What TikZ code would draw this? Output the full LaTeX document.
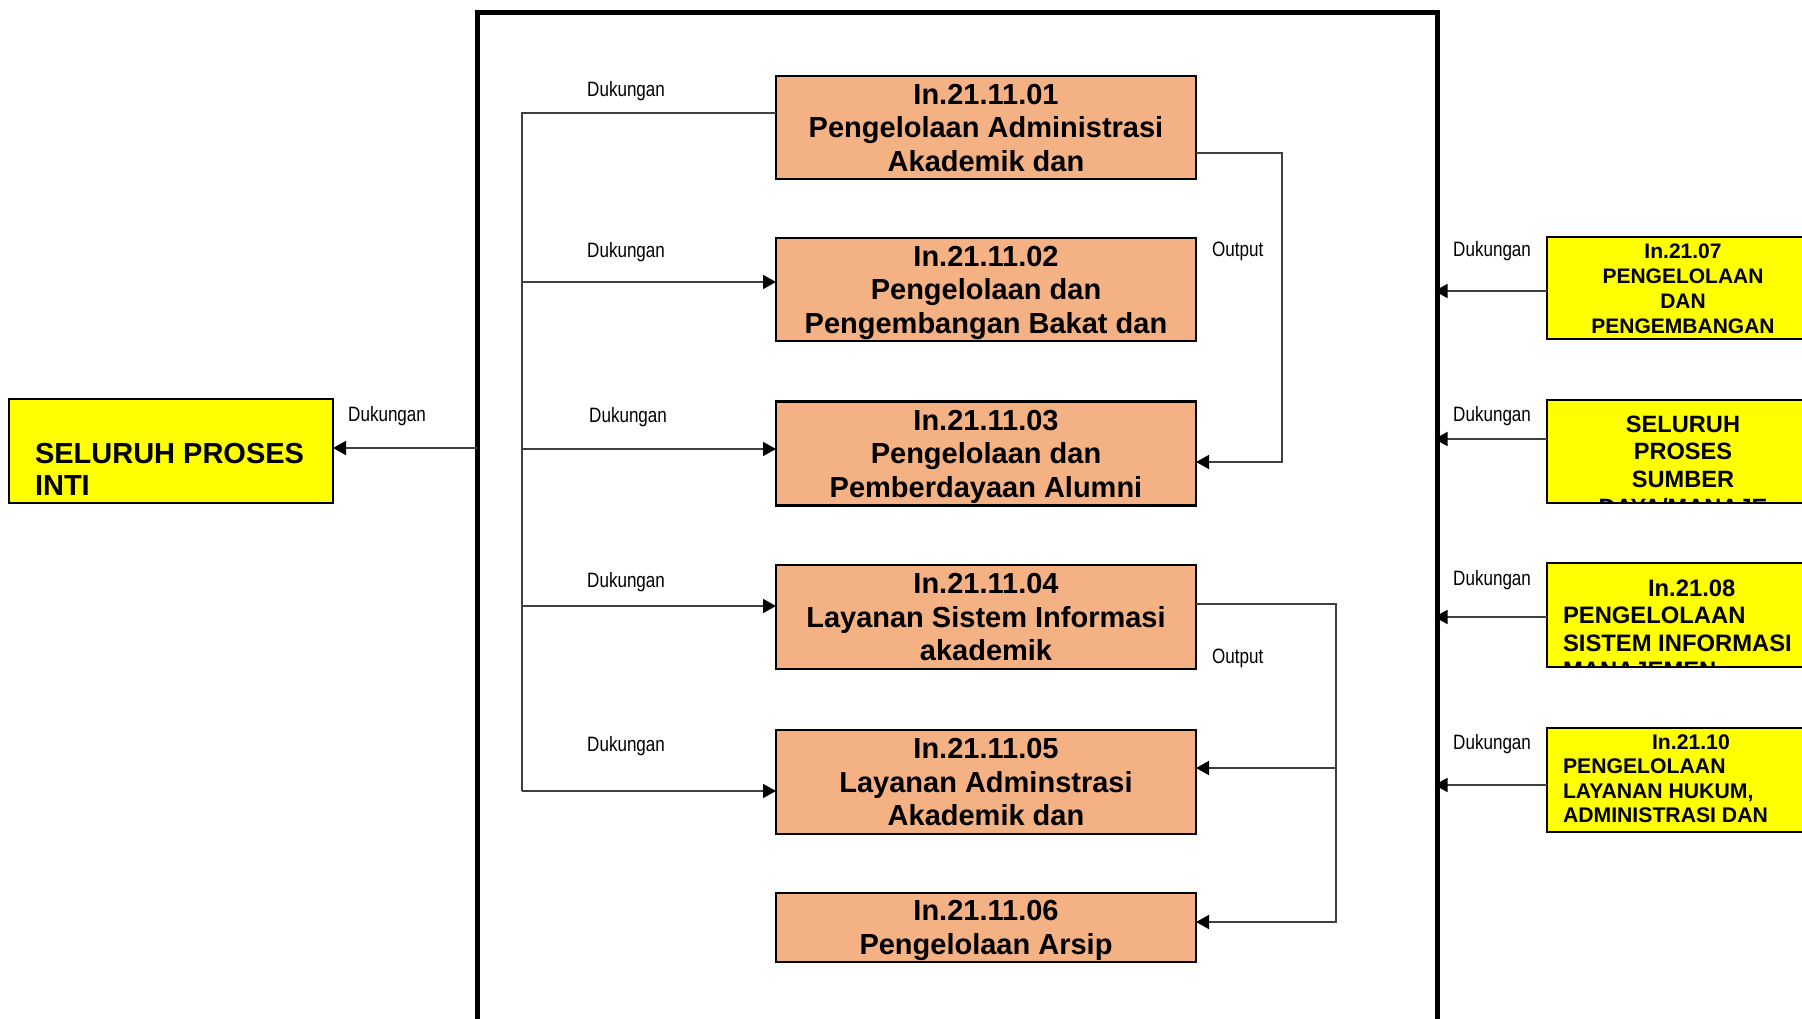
\documentclass[tikz,border=0pt]{standalone}
\usepackage{fontspec}
\setmainfont{Liberation Sans}
\newfontfamily\narrowfont[FakeStretch=0.82]{Liberation Sans}
\usetikzlibrary{arrows.meta}
\definecolor{boxorange}{RGB}{244,177,131}
\definecolor{boxyellow}{RGB}{255,255,0}
\definecolor{linegray}{RGB}{64,64,64}
\begin{document}
\begin{tikzpicture}[x=1pt,y=-1pt,
  procbox/.style={draw=black, line width=2.5pt, fill=boxorange, minimum width=420pt,
    inner sep=0pt, outer sep=0pt, align=center, text depth=0pt,
    font=\fontsize{29}{33.5}\selectfont\bfseries},
  extbox/.style={draw=black, line width=1.5pt, fill=boxyellow, inner sep=0pt,
    outer sep=0pt, anchor=north west},
  exttext/.style={inner sep=0pt, outer sep=0pt},
  conn/.style={draw=linegray, line width=1.5pt},
  arr/.style={-{Triangle[length=13pt,width=14pt,color=black]}},
  lbl/.style={anchor=base west, inner sep=0pt, font=\narrowfont\fontsize{20.8}{24}\selectfont},
]
\useasboundingbox (0,0) rectangle (1802,1019);

% outer frame of the unit
\node[draw=black, line width=5pt, minimum width=960pt, minimum height=1200pt,
  inner sep=0pt, outer sep=0pt, anchor=north west] (frame) at (477,12.5) {};

% process boxes
\node[procbox, minimum height=103pt] (b1) at (986,127.5) {In.21.11.01\\Pengelolaan Administrasi\\Akademik dan};
\node[procbox, minimum height=103pt] (b2) at (986,289.5) {In.21.11.02\\Pengelolaan dan\\Pengembangan Bakat dan};
\node[procbox, minimum height=104pt] (b3) at (986,453.5) {In.21.11.03\\Pengelolaan dan\\Pemberdayaan Alumni};
\node[procbox, minimum height=104pt] (b4) at (986,617) {In.21.11.04\\Layanan Sistem Informasi\\akademik};
\node[procbox, minimum height=104pt] (b5) at (986,782) {In.21.11.05\\Layanan Adminstrasi\\Akademik dan};
\node[procbox, minimum height=69pt] (b6) at (986,927.5) {In.21.11.06\\Pengelolaan Arsip};

% external process boxes
\node[extbox, minimum width=324pt, minimum height=104pt] (lbox) at (9,399) {};
\node[exttext, anchor=base west, align=left, font=\fontsize{29}{32}\selectfont\bfseries]
  (ltext) at (35,495) {SELURUH PROSES\\INTI};

\node[extbox, minimum width=300pt, minimum height=102pt] (y1) at (1547,237) {};
\node[extbox, minimum width=300pt, minimum height=103pt] (y2) at (1547,400) {};
\node[extbox, minimum width=300pt, minimum height=104pt] (y3) at (1547,563) {};
\node[extbox, minimum width=300pt, minimum height=104pt] (y4) at (1547,728) {};

% box texts; each node is placed by the baseline of its last line
\begin{scope}
  \clip ([xshift=1pt]y1.north west) rectangle ([yshift=1pt]y1.south east);
  \node[exttext, anchor=base, align=center, font=\fontsize{21}{25}\selectfont\bfseries]
    (y1t) at (1683,333) {In.21.07\\PENGELOLAAN\\DAN\\PENGEMBANGAN};
\end{scope}
\begin{scope}
  \clip ([xshift=1pt]y2.north west) rectangle ([yshift=1pt]y2.south east);
  \node[exttext, anchor=base, align=center, font=\fontsize{23.6}{27.8}\selectfont\bfseries]
    (y2t) at (1683,515.4) {SELURUH\\PROSES\\SUMBER\\DAYA/MANAJE};
\end{scope}
\begin{scope}
  \clip ([xshift=1pt]y3.north west) rectangle ([yshift=1pt]y3.south east);
  \node[exttext, anchor=base west, align=left, font=\fontsize{23.8}{27.5}\selectfont\bfseries]
    (y3t) at (1563,678.5) {\hspace*{85pt}In.21.08\\PENGELOLAAN\\SISTEM INFORMASI\\MANAJEMEN};
\end{scope}
\begin{scope}
  \clip ([xshift=1pt]y4.north west) rectangle ([yshift=1pt]y4.south east);
  \node[exttext, anchor=base west, align=left, font=\fontsize{21.2}{24.6}\selectfont\bfseries]
    (y4t) at (1563,822.8) {\hspace*{89pt}In.21.10\\PENGELOLAAN\\LAYANAN HUKUM,\\ADMINISTRASI DAN};
\end{scope}

% support bus on the left inside the frame
\coordinate (bustop) at (522,113);
\coordinate (busbot) at (522,791);
\draw[conn] (b1.west |- bustop) -- (bustop) -- (busbot);
\draw[conn,arr] (bustop |- 0,282) -- (b2.west |- 0,282);
\draw[conn,arr] (bustop |- 0,449) -- (b3.west |- 0,449);
\draw[conn,arr] (bustop |- 0,606) -- (b4.west |- 0,606);
\draw[conn,arr] (busbot) -- (b5.west |- busbot);

% output loops on the right
\coordinate (outA) at (1282,153);
\coordinate (outB) at (1336,604);
\draw[conn,arr] (b1.east |- outA) -- (outA) -- (outA |- 0,462) -- (b3.east |- 0,462);
\draw[conn,arr] (b4.east |- outB) -- (outB) -- (outB |- 0,922) -- (b6.east |- 0,922);
\draw[conn,arr] (outB |- 0,768) -- (b5.east |- 0,768);

% support from the frame to the external boxes
\draw[conn,arr] (frame.west |- 0,448) -- (lbox.east |- 0,448);
\draw[conn,arr,shorten >=-2.5pt] (y1.west |- 0,291) -- (frame.east |- 0,291);
\draw[conn,arr,shorten >=-2.5pt] (y2.west |- 0,439) -- (frame.east |- 0,439);
\draw[conn,arr,shorten >=-2.5pt] (y3.west |- 0,617) -- (frame.east |- 0,617);
\draw[conn,arr,shorten >=-2.5pt] (y4.west |- 0,785) -- (frame.east |- 0,785);

% connector labels
\node[lbl] (l0) at (348,421) {Dukungan};
\node[lbl] (l1) at (587,97) {Dukungan};
\node[lbl] (l2) at (587,258) {Dukungan};
\node[lbl] (l3) at (589,422) {Dukungan};
\node[lbl] (l4) at (587,587) {Dukungan};
\node[lbl] (l5) at (587,751) {Dukungan};
\node[lbl] (o1) at (1212,257) {Output};
\node[lbl] (o2) at (1212,663) {Output};
\node[lbl] (r1) at (1453,257) {Dukungan};
\node[lbl] (r2) at (1453,421) {Dukungan};
\node[lbl] (r3) at (1453,585) {Dukungan};
\node[lbl] (r4) at (1453,749) {Dukungan};
\end{tikzpicture}
\end{document}
